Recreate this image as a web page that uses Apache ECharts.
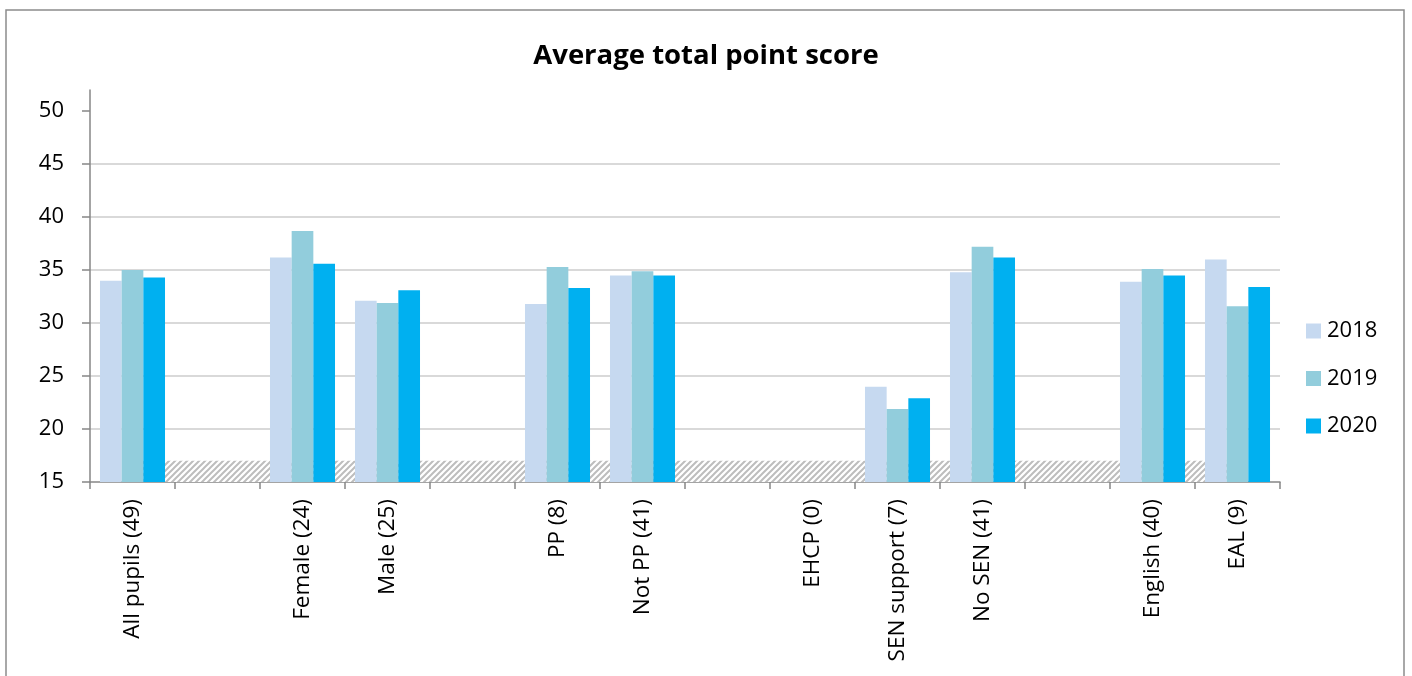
<!DOCTYPE html>
<html>
<head>
<meta charset="utf-8">
<script src="https://cdn.jsdelivr.net/npm/echarts@6/dist/echarts.min.js"></script>
<style>
html,body{margin:0;padding:0;background:#fff;}
#c{width:1412px;height:676px;}
</style>
</head>
<body>
<div id="c"></div>
<script>
const categories = ['All pupils (49)', '', 'Female (24)', 'Male (25)', '', 'PP (8)', 'Not PP (41)', '', 'EHCP (0)', 'SEN support (7)', 'No SEN (41)', '', 'English (40)', 'EAL (9)'];
const s2018 = [34.0, null, 36.2, 32.1, null, 31.8, 34.5, null, 0, 24.0, 34.8, null, 33.9, 36.0];
const s2019 = [35.0, null, 38.7, 31.9, null, 35.3, 34.9, null, 0, 21.9, 37.2, null, 35.1, 31.6];
const s2020 = [34.3, null, 35.6, 33.1, null, 33.3, 34.5, null, 0, 22.9, 36.2, null, 34.5, 33.4];
const band = [17, 17, 17, 17, 17, 17, 17, 17, 17, 17, 17, 17, 17, 17];
const yTicks = [15, 20, 25, 30, 35, 40, 45, 50];

const FONT = '"Open Sans", "Noto Sans", sans-serif';

// hatch pattern
const pc = document.createElement('canvas');
pc.width = 6; pc.height = 6;
const g = pc.getContext('2d');
g.fillStyle = '#ffffff';
g.fillRect(0, 0, 6, 6);
g.strokeStyle = '#bdbdbd';
g.lineWidth = 2;
g.beginPath();
g.moveTo(-1, 7); g.lineTo(7, -1);
g.moveTo(-1, 1); g.lineTo(1, -1);
g.moveTo(5, 7); g.lineTo(7, 5);
g.stroke();

const chart = echarts.init(document.getElementById('c'));
chart.setOption({
  backgroundColor: '#ffffff',
  animation: false,
  title: {
    text: 'Average total point score',
    left: 'center',
    top: 37,
    textStyle: { fontFamily: FONT, fontSize: 27.5, fontWeight: 'bold', color: '#000' }
  },
  graphic: [{
    type: 'rect',
    shape: { x: 6, y: 10, width: 1398, height: 700 },
    style: { fill: 'none', stroke: '#8c8c8c', lineWidth: 1.5 },
    silent: true,
    z: 100
  }],
  legend: {
    orient: 'vertical',
    left: 1306,
    top: 320,
    padding: 0,
    itemWidth: 15,
    itemHeight: 15,
    itemGap: 25.5,
    icon: 'rect',
    data: ['2018', '2019', '2020'],
    textStyle: { fontFamily: FONT, fontSize: 22, color: '#000', padding: [0, 0, 0, 1] }
  },
  grid: { left: 90, right: 132, top: 90, bottom: 194, containLabel: false },
  xAxis: {
    type: 'category',
    data: categories,
    boundaryGap: true,
    axisLine: { lineStyle: { color: '#868686', width: 1.5 } },
    axisTick: { show: true, length: 7, lineStyle: { color: '#868686', width: 1.5 } },
    axisLabel: {
      interval: 0,
      rotate: 90,
      margin: 17,
      fontFamily: FONT,
      fontSize: 22.5,
      color: '#000'
    }
  },
  yAxis: {
    type: 'value',
    min: 15,
    max: 52,
    interval: 5,
    axisLine: { show: true, lineStyle: { color: '#868686', width: 1.5 } },
    axisTick: { show: true, length: 8, customValues: yTicks, lineStyle: { color: '#868686', width: 1.5 } },
    axisLabel: { customValues: yTicks, margin: 26, fontFamily: FONT, fontSize: 22, color: '#000' },
    splitLine: { show: true, showMinLine: false, showMaxLine: false, lineStyle: { color: '#d9d9d9', width: 2 } }
  },
  series: [
    {
      name: 'band',
      type: 'line',
      data: band,
      symbol: 'none',
      lineStyle: { width: 0 },
      areaStyle: { color: { image: pc, repeat: 'repeat' }, opacity: 1, origin: 'start' },
      z: 1,
      silent: true,
      legendHoverLink: false
    },
    {
      name: '2018', type: 'bar', data: s2018, barGap: '0%', barCategoryGap: '23.5%',
      itemStyle: { color: '#c6d9f0' }, z: 3
    },
    {
      name: '2019', type: 'bar', data: s2019, barGap: '0%', barCategoryGap: '23.5%',
      itemStyle: { color: '#92cddc' }, z: 3
    },
    {
      name: '2020', type: 'bar', data: s2020, barGap: '0%', barCategoryGap: '23.5%',
      itemStyle: { color: '#00b0f0' }, z: 3
    }
  ]
});
</script>
</body>
</html>
